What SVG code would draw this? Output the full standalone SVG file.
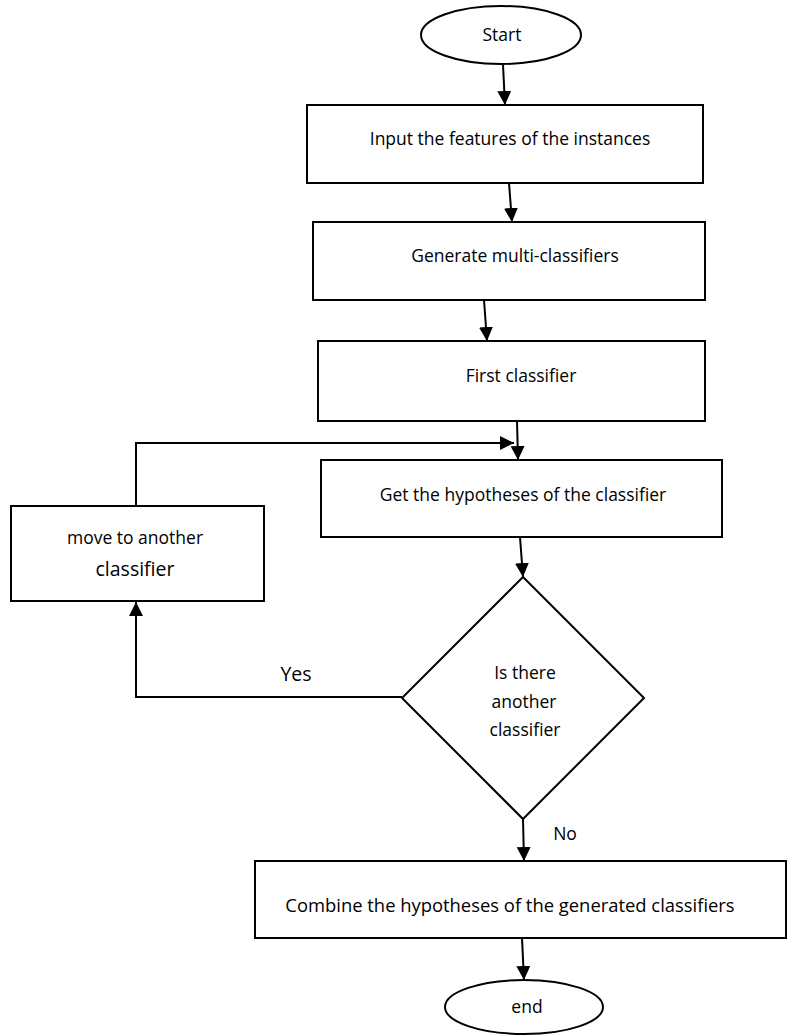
<svg xmlns="http://www.w3.org/2000/svg" width="787" height="1036" viewBox="0 0 787 1036">
<style>
.s{fill:#fff;stroke:#000;stroke-width:2}
.c{fill:none;stroke:#000;stroke-width:2}
text{font-family:"Open Sans","Liberation Sans",sans-serif;fill:#000;text-anchor:middle}
.t{font-size:17.5px}
.m{font-size:18.4px}
.l{font-size:19.5px}
</style>
<defs>
<marker id="ah" markerUnits="userSpaceOnUse" markerWidth="16" markerHeight="16" refX="14" refY="7" orient="auto">
<path d="M0,0 L14,7 L0,14 Z" fill="#000"/>
</marker>
</defs>
<g id="start"><ellipse class="s" cx="501" cy="35" rx="80" ry="29"/><text class="t" x="502" y="41">Start</text></g>
<g id="input"><rect class="s" x="307" y="105" width="396" height="78"/><text class="t" x="510" y="145">Input the features of the instances</text></g>
<g id="generate"><rect class="s" x="313" y="222" width="392" height="78"/><text class="t" x="515" y="262">Generate multi-classifiers</text></g>
<g id="first"><rect class="s" x="318" y="341" width="387" height="80"/><text class="t" x="521" y="382">First classifier</text></g>
<g id="get"><rect class="s" x="321" y="460" width="401" height="77"/><text class="t" x="523" y="501">Get the hypotheses of the classifier</text></g>
<g id="move"><rect class="s" x="11" y="506" width="253" height="95"/><text class="t" x="135" y="544">move to another</text><text class="l" x="135" y="576">classifier</text></g>
<g id="decision"><polygon class="s" points="523,577 644,698 523,819 402,698"/><text class="t" x="525" y="679">Is there</text><text class="t" x="524" y="708">another</text><text class="t" x="525" y="736">classifier</text></g>
<g id="combine"><rect class="s" x="255" y="861" width="531" height="77"/><text class="m" x="510" y="912">Combine the hypotheses of the generated classifiers</text></g>
<g id="end"><ellipse class="s" cx="524" cy="1007" rx="79" ry="27"/><text class="t" x="527" y="1013">end</text></g>
<g id="connectors">
<line class="c" x1="503" y1="65" x2="505" y2="105" marker-end="url(#ah)"/>
<line class="c" x1="509" y1="183" x2="512" y2="222" marker-end="url(#ah)"/>
<line class="c" x1="484" y1="300" x2="487" y2="341" marker-end="url(#ah)"/>
<line class="c" x1="517" y1="421" x2="518" y2="460" marker-end="url(#ah)"/>
<line class="c" x1="520" y1="537" x2="523" y2="577" marker-end="url(#ah)"/>
<line class="c" x1="523" y1="819" x2="524" y2="861" marker-end="url(#ah)"/>
<line class="c" x1="522" y1="938" x2="524" y2="980" marker-end="url(#ah)"/>
<polyline class="c" points="136,506 136,443 514,443" marker-end="url(#ah)"/>
<polyline class="c" points="402,697 136,697 136,602" marker-end="url(#ah)"/>
<text class="l" x="296" y="681">Yes</text>
<text class="t" x="565" y="840">No</text>
</g>
</svg>
